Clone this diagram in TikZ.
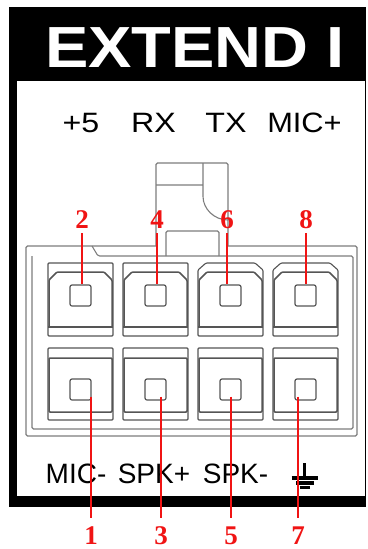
\documentclass[tikz,border=0pt]{standalone}
\usepackage{fontspec}
\setmainfont{Liberation Sans}
\newfontfamily\numfont{Liberation Serif}

\definecolor{pinred}{RGB}{240,20,20}
\definecolor{housegray}{RGB}{125,125,125}
\definecolor{cellgray}{RGB}{85,85,85}

\tikzset{
  labeltext/.style={font=\fontsize{28}{28}\selectfont, anchor=base, inner sep=0pt},
  pinnum/.style={text=pinred, font=\numfont\bfseries\fontsize{27}{27}\selectfont, anchor=base, inner sep=0pt},
  pinhole/.style={draw=cellgray, line width=1.2pt, rounded corners=2pt, minimum size=21pt, inner sep=0pt},
  pinwire/.style={draw=pinred, line width=2.6pt},
  housing/.style={draw=housegray, line width=1.1pt, rounded corners=1.5pt},
  cell/.style={draw=cellgray, line width=1.1pt, rounded corners=1pt}
}

\begin{document}
\begin{tikzpicture}[x=1pt,y=-1pt]
  \useasboundingbox (0,0) rectangle (367,549);
  % frame and title
  \fill (9,7) rectangle (366,81);
  \fill (9,81) rectangle (17,507);
  \fill (9,496) rectangle (366,507);
  \draw[line width=1pt] (365.5,81) -- (365.5,496);
  \node[text=white, font=\bfseries\fontsize{58}{58}\selectfont, anchor=base, inner sep=0pt, xscale=1.12] (title) at (195,67) {EXTEND I};
  % signal names
  \node[labeltext, xscale=1.15] (vcc)  at (81,132)  {+5};
  \node[labeltext, xscale=1.15] (rx)   at (153.5,132) {RX};
  \node[labeltext, xscale=1.15] (tx)   at (226,132) {TX};
  \node[labeltext, xscale=1.1]  (micp) at (304.5,132) {MIC+};
  \node[labeltext] (micm) at (76,483)  {MIC-};
  \node[labeltext] (spkp) at (154,483) {SPK+};
  \node[labeltext] (spkm) at (235.5,483) {SPK-};
  \coordinate (gnd) at (304.5,463);
  \draw[line width=3.2pt] (gnd) -- ++(0,15) ++(-13,0) -- ++(26,0)
    ++(-4,5) -- ++(-18,0) ++(4,4.5) -- ++(10,0);
  % housing and latch
  \draw[housing] (156,246) -- (26,246) -- (26,436) -- (357,436) -- (357,246) -- (228,246);
  \draw[housing] (92,246) -- (98,256) -- (353,256) -- (353,429) -- (32,429) -- (32,256);
  \draw[housing] (156,246) -- (156,163) -- (228,163) -- (228,246);
  \draw[housing] (156,185) -- (203,185) (203,163) -- (203,195) arc[start angle=180, end angle=270, radius=25pt];
  \draw[housing] (166,256) -- (166,231) -- (219,231) -- (219,256);
  % pin cells
  \foreach \cx/\up/\ux/\dn/\dx [count=\i] in {48/2/82/1/91, 123/4/157/3/161, 198/6/227/5/231, 273/8/306/7/298}{
    \ifnum\i>2
      \draw[cell] (\cx,336) -- (\cx,270) -- (\cx+8,263) -- (\cx+57,263) -- (\cx+65,270) -- (\cx+65,336) -- cycle;
    \else
      \draw[cell] (\cx,263) rectangle (\cx+65,336);
    \fi
    \draw[cell] (\cx,327) -- (\cx+65,327);
    \draw[cell, line width=1.5pt] (\cx+1,327) -- (\cx+1,280) -- (\cx+9,272) -- (\cx+56,272) -- (\cx+64,280) -- (\cx+64,327);
    \draw[cell] (\cx,348) rectangle (\cx+65,420);
    \draw[cell, line width=1.5pt] (\cx+1,358) rectangle (\cx+64,412);
    \node[pinhole] (pin\up) at (\cx+32.5,295.5) {};
    \node[pinhole] (pin\dn) at (\cx+32.5,389.5) {};
    \node[pinnum] (n\up) at (\ux,228) {\up};
    \node[pinnum] (n\dn) at (\dx,544) {\dn};
    \draw[pinwire] ([yshift=-5pt]n\up.south) -- (n\up |- pin\up.north);
    \draw[pinwire] ([yshift=4pt]pin\dn.south -| n\dn) -- ([yshift=8pt]n\dn.north);
  }
\end{tikzpicture}
\end{document}
